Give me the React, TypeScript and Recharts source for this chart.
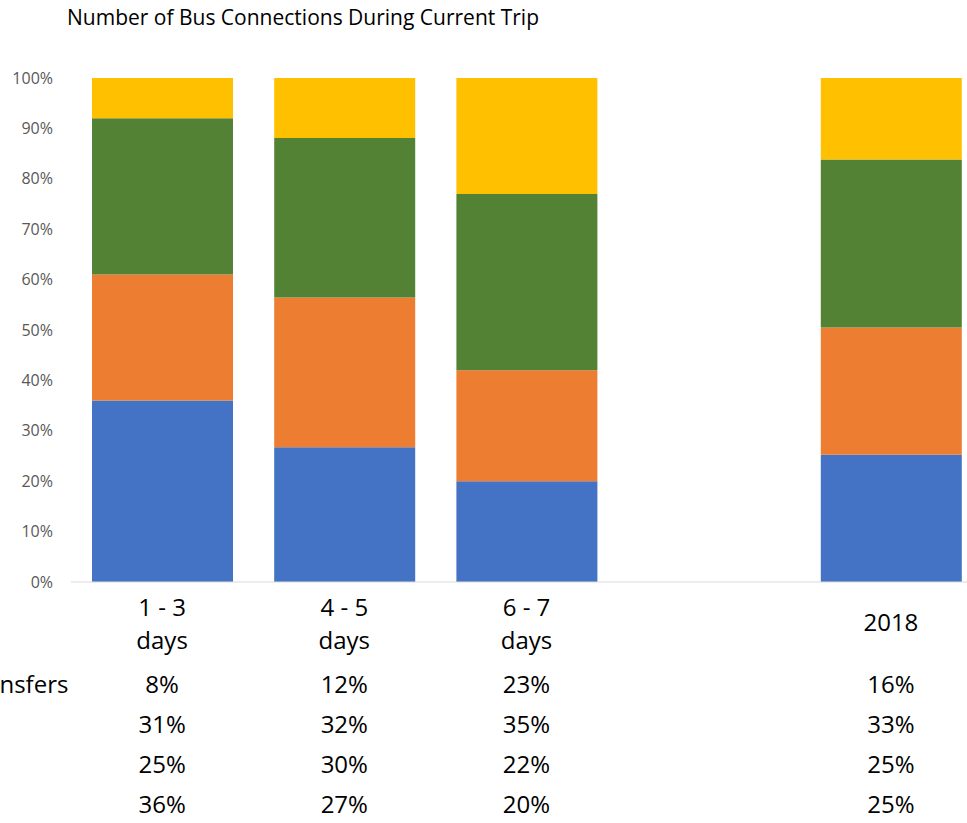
import { BarChart, Bar, XAxis, YAxis } from "recharts";

const categories = ["1 - 3 days", "4 - 5 days", "6 - 7 days", "", "2018"];

// one array per series, bottom of the stack first
const noTransfers = [36, 27, 20, null, 25];
const oneTransfer = [25, 30, 22, null, 25];
const twoTransfers = [31, 32, 35, null, 33];
const threePlusTransfers = [8, 12, 23, null, 16];

const seriesNames = ["No Transfers", "One Transfer", "Two Transfers", "Three or More Transfers"];
const yTicks = [0, 0.1, 0.2, 0.3, 0.4, 0.5, 0.6, 0.7, 0.8, 0.9, 1];

const FONT = "'Open Sans', sans-serif";

const chartData = categories.map((c, i) => ({
  category: c,
  none: noTransfers[i],
  one: oneTransfer[i],
  two: twoTransfers[i],
  three: threePlusTransfers[i],
}));

// data table rows, top row first (same order as the table under the chart)
const tableRows = [
  { name: seriesNames[3], values: threePlusTransfers },
  { name: seriesNames[2], values: twoTransfers },
  { name: seriesNames[1], values: oneTransfer },
  { name: seriesNames[0], values: noTransfers },
];

function splitLabel(label: string): string[] {
  const idx = label.lastIndexOf(" days");
  if (idx < 0) return [label];
  return [label.slice(0, idx), "days"];
}

interface TickProps {
  x?: number;
  y?: number;
  index?: number;
  payload?: { value: string };
}

function TableTick({ x = 0, y = 0, index = 0, payload }: TickProps) {
  const lines = splitLabel(payload?.value ?? "");
  return (
    <g fontFamily={FONT} fontSize={24} fill="#000">
      {lines.length === 1 ? (
        <text x={x} y={y + 39} textAnchor="middle" dominantBaseline="central">
          {lines[0]}
        </text>
      ) : (
        lines.map((l, k) => (
          <text key={k} x={x} y={y + 24 + k * 33} textAnchor="middle" dominantBaseline="central">
            {l}
          </text>
        ))
      )}
      {tableRows.map((row, r) => {
        const v = row.values[index];
        return v == null ? null : (
          <text key={r} x={x} y={y + 101 + r * 40} textAnchor="middle" dominantBaseline="central">
            {v}%
          </text>
        );
      })}
      {/* row labels, left aligned, pushed off the left edge like the source */}
      {index === 0 &&
        tableRows.map((row, r) => (
          <text
            key={"n" + r}
            x={x - 366}
            y={y + 101 + r * 40}
            textAnchor="start"
            dominantBaseline="central"
          >
            {row.name}
          </text>
        ))}
    </g>
  );
}

export default function App() {
  return (
    <div
      style={{
        position: "absolute",
        left: 0,
        top: 0,
        width: 967,
        height: 823,
        overflow: "hidden",
        background: "#fff",
      }}
    >
      <div
        style={{
          position: "absolute",
          left: 67,
          top: 3,
          fontFamily: FONT,
          fontSize: 21,
          color: "#000",
          whiteSpace: "nowrap",
        }}
      >
        Number of Bus Connections During Current Trip
      </div>
      <BarChart
        width={982}
        height={823}
        data={chartData}
        stackOffset="expand"
        margin={{ top: 78, right: 0, bottom: 0, left: 0 }}
      >
        <XAxis
          dataKey="category"
          height={241}
          axisLine={{ stroke: "#D9D9D9" }}
          tickLine={false}
          tickSize={0}
          tickMargin={0}
          interval={0}
          tick={<TableTick />}
        />
        <YAxis
          width={71}
          domain={[0, 1]}
          ticks={yTicks}
          tickFormatter={(v: number) => `${Math.round(v * 100)}%`}
          axisLine={false}
          tickLine={false}
          tickSize={0}
          tickMargin={18}
          tick={{ fontSize: 16, fill: "#595959", fontFamily: FONT }}
        />
        <Bar dataKey="none" stackId="a" fill="#4472C4" barSize={141} isAnimationActive={false} />
        <Bar dataKey="one" stackId="a" fill="#ED7D31" barSize={141} isAnimationActive={false} />
        <Bar dataKey="two" stackId="a" fill="#548235" barSize={141} isAnimationActive={false} />
        <Bar dataKey="three" stackId="a" fill="#FFC000" barSize={141} isAnimationActive={false} />
      </BarChart>
    </div>
  );
}
